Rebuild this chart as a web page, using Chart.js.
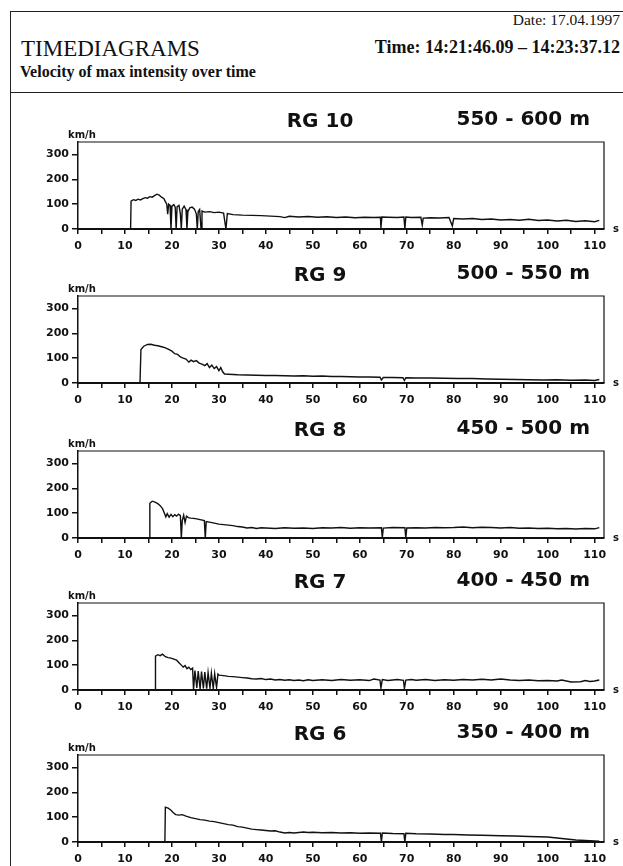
<!DOCTYPE html>
<html>
<head>
<meta charset="utf-8">
<script src="https://cdn.jsdelivr.net/npm/chart.js@4.4.1/dist/chart.umd.min.js"></script>
<style>
  body { margin: 0; background: #fff; }
  #page { position: relative; width: 623px; height: 866px; overflow: hidden; background: #fff; }
  .hd { position: absolute; font-family: "Liberation Serif", "Times New Roman", serif; color: #111; line-height: 1; white-space: nowrap; }
  .rule { position: absolute; background: #222; }
  canvas { position: absolute; left: 0; }
</style>
</head>
<body>
<div id="page">
  <div class="rule" style="left:10px;top:11px;width:613px;height:1px"></div>
  <div class="rule" style="left:10px;top:11px;width:1px;height:855px"></div>
  <div class="rule" style="left:10px;top:92px;width:613px;height:1px"></div>

  <div class="hd" style="right:3px;top:12px;font-size:15.5px">Date: 17.04.1997</div>
  <div class="hd" style="left:21px;top:37px;font-size:23px">TIMEDIAGRAMS</div>
  <div class="hd" style="right:3px;top:38px;font-size:18px;font-weight:bold">Time: 14:21:46.09 – 14:23:37.12</div>
  <div class="hd" style="left:20px;top:64px;font-size:16px;font-weight:bold">Velocity of max intensity over time</div>
</div>

<script>
// Timediagrams - velocity of max intensity per range gate

var panelNames = ['RG 10', 'RG 9', 'RG 8', 'RG 7', 'RG 6'];
var panelRanges = ['550 - 600 m', '500 - 550 m', '450 - 500 m', '400 - 450 m', '350 - 400 m'];

var xTicks = [0, 5, 10, 15, 20, 25, 30, 35, 40, 45, 50, 55, 60, 65, 70, 75, 80, 85, 90, 95, 100, 105, 110];
var yTicks = [0, 100, 200, 300];

// RG 10 (s, km/h)
var rg10Time = [0, 11.2, 11.3, 11.8, 12.3, 12.8, 13.3, 13.8, 14.3, 14.8, 15.3, 15.8, 16.3, 16.8, 17.3, 17.8, 18.3, 18.6, 18.9, 19.1, 19.3, 19.6, 19.8, 20.0, 20.4, 20.7, 20.9, 21.1, 21.5, 21.8, 22.0, 22.2, 22.6, 23.0, 23.2, 23.4, 23.8, 24.3, 24.8, 25.2, 25.4, 25.6, 25.9, 26.2, 26.4, 27, 28, 29, 30, 31, 31.5, 31.8, 33, 35, 37, 39, 41, 43, 44, 45, 47, 49, 51, 53, 55, 57, 59, 61, 63, 64.4, 64.5, 64.7, 66, 68, 69.4, 69.6, 69.8, 71, 73, 73.3, 73.5, 75, 77, 79, 79.7, 80, 82, 84, 86, 88, 90, 92, 94, 96, 98, 100, 102, 104, 106, 108, 110, 111];
var rg10Speed = [0, 0, 112, 118, 115, 120, 117, 122, 126, 124, 130, 128, 134, 140, 136, 128, 122, 110, 100, 60, 100, 95, 0, 92, 98, 88, 0, 90, 95, 60, 0, 80, 92, 78, 0, 70, 85, 88, 80, 60, 0, 70, 78, 0, 72, 68, 70, 66, 68, 64, 0, 62, 58, 56, 55, 54, 52, 50, 46, 51, 48, 50, 47, 49, 46, 48, 45, 47, 46, 47, 4, 48, 47, 46, 48, 0, 48, 46, 47, 16, 44, 45, 44, 46, 12, 42, 40, 42, 38, 40, 36, 38, 35, 39, 34, 36, 32, 35, 30, 33, 29, 35];

// RG 9
var rg9Time = [0, 13.2, 13.4, 14.0, 14.8, 15.5, 16.3, 17.0, 17.8, 18.5, 19.2, 20.0, 20.6, 21.2, 21.8, 22.4, 23.0, 23.6, 24.1, 24.6, 25.2, 25.8, 26.4, 27.0, 27.5, 28.0, 28.5, 29.0, 29.5, 30.0, 30.4, 30.8, 31.2, 32, 34, 36, 38, 40, 42, 44, 46, 48, 50, 52, 54, 56, 58, 60, 62, 64.3, 64.6, 65, 67, 69.2, 69.5, 69.8, 72, 75, 78, 81, 84, 87, 90, 93, 96, 99, 102, 105, 108, 110, 111];
var rg9Speed = [0, 0, 135, 148, 155, 156, 152, 150, 146, 142, 136, 128, 118, 115, 105, 100, 96, 84, 92, 86, 90, 80, 76, 70, 78, 62, 72, 58, 66, 50, 62, 45, 36, 35, 33, 32, 31, 30, 30, 29, 28, 29, 27, 28, 26, 26, 25, 24, 24, 23, 12, 22, 22, 21, 10, 21, 20, 20, 19, 18, 18, 16, 15, 14, 13, 12, 13, 11, 12, 10, 14];

// RG 8
var rg8Time = [0, 15.2, 15.3, 15.8, 16.4, 17.0, 17.5, 18.0, 18.4, 18.7, 19.0, 19.4, 19.8, 20.2, 20.6, 21.0, 21.4, 21.8, 22.0, 22.2, 22.5, 22.8, 23.1, 23.5, 24, 25, 26, 26.9, 27.1, 27.3, 28, 29, 30, 31, 32, 33, 34, 35, 36, 37, 38, 39, 40, 42, 44, 46, 48, 50, 52, 54, 56, 58, 60, 62, 64.6, 64.8, 65, 67, 69.6, 69.8, 70, 72, 74, 76, 78, 80, 82, 84, 86, 88, 90, 92, 94, 96, 98, 100, 102, 104, 106, 108, 110, 111];
var rg8Speed = [0, 0, 140, 148, 144, 138, 130, 118, 100, 85, 98, 84, 95, 86, 94, 88, 96, 90, 0, 70, 92, 62, 88, 82, 80, 78, 74, 70, 0, 66, 64, 60, 56, 54, 52, 50, 46, 44, 40, 42, 38, 41, 40, 38, 41, 39, 40, 38, 41, 40, 42, 39, 41, 40, 41, 2, 40, 42, 41, 0, 40, 41, 40, 42, 41, 42, 44, 41, 43, 42, 40, 42, 39, 40, 38, 39, 37, 38, 36, 38, 37, 42];

// RG 7
var rg7Time = [0, 16.4, 16.5, 17.0, 17.5, 18.0, 18.6, 19.2, 19.8, 20.4, 21.0, 21.5, 22.0, 22.4, 22.8, 23.2, 23.6, 24.0, 24.4, 24.6, 24.9, 25.3, 25.6, 26.0, 26.3, 26.7, 27.0, 27.4, 27.7, 28.1, 28.4, 28.8, 29.1, 29.5, 29.8, 30, 31, 32, 33, 34, 35, 36, 37, 38, 39, 40, 41, 42, 43, 44, 45, 46, 47, 48, 49, 50, 52, 54, 56, 58, 60, 62, 63, 64.3, 64.5, 64.8, 66, 68, 69.3, 69.5, 69.8, 71, 72, 74, 76, 78, 80, 82, 84, 86, 88, 90, 92, 94, 96, 98, 100, 102, 103, 105, 107, 108, 109, 110, 111];
var rg7Speed = [0, 0, 136, 142, 138, 144, 134, 130, 128, 124, 120, 110, 100, 92, 98, 86, 92, 82, 88, 0, 78, 8, 76, 4, 74, 6, 72, 5, 70, 8, 68, 6, 66, 10, 64, 60, 58, 55, 54, 52, 50, 48, 45, 44, 46, 42, 44, 40, 42, 39, 41, 38, 40, 37, 41, 38, 41, 38, 42, 39, 41, 38, 44, 40, 8, 42, 38, 42, 39, 6, 40, 42, 39, 42, 38, 41, 39, 42, 40, 43, 40, 44, 40, 38, 40, 37, 38, 36, 40, 32, 33, 38, 34, 36, 40];

// RG 6
var rg6Time = [0, 18.5, 18.6, 19.2, 19.8, 20.3, 20.8, 21.5, 22.2, 23, 24, 25, 26, 27, 28, 29, 30, 31, 32, 33, 34, 35, 36, 37, 38, 39, 40, 41, 42, 43, 44, 45, 46, 47, 48, 49, 50, 52, 54, 56, 58, 60, 62, 64.4, 64.6, 64.8, 67, 69.4, 69.6, 69.8, 72, 75, 78, 80, 83, 86, 90, 93, 96, 100, 102, 104, 106, 108, 110, 111];
var rg6Speed = [0, 0, 140, 136, 128, 118, 110, 108, 110, 104, 98, 94, 90, 88, 84, 82, 78, 74, 70, 68, 62, 60, 56, 52, 50, 48, 46, 44, 45, 40, 36, 38, 36, 38, 40, 38, 39, 37, 38, 36, 37, 35, 36, 35, 0, 36, 34, 33, 0, 35, 33, 32, 30, 30, 28, 27, 25, 24, 22, 20, 16, 12, 8, 6, 4, 3];

var panelTimes = [rg10Time, rg9Time, rg8Time, rg7Time, rg6Time];
var panelSpeeds = [rg10Speed, rg9Speed, rg8Speed, rg7Speed, rg6Speed];

// layout: top of each plot box on the page
var plotTops = [142, 296, 451, 603, 755];
var padTop = 34;
var plotHeight = 87;
var axisHeight = 26;

var ink = '#111';
var tickFont = { family: '"DejaVu Sans", Arial, sans-serif', size: 11, weight: 'bold' };

var panelDecor = {
    id: 'panelDecor',
    afterDraw: function (chart, args, opts) {
        var ctx = chart.ctx;
        var a = chart.chartArea;
        ctx.save();
        // top and right side of the box
        ctx.strokeStyle = ink;
        ctx.lineWidth = 1.2;
        ctx.beginPath();
        ctx.moveTo(a.left, a.top);
        ctx.lineTo(a.right, a.top);
        ctx.lineTo(a.right, a.bottom);
        ctx.stroke();

        ctx.fillStyle = ink;
        ctx.font = 'bold 10px "DejaVu Sans", Arial, sans-serif';
        ctx.textAlign = 'left';
        ctx.textBaseline = 'bottom';
        ctx.fillText('km/h', a.left - 10, a.top - 2);
        ctx.textBaseline = 'middle';
        ctx.fillText('s', a.right + 9, a.bottom);

        ctx.font = 'bold 20px "DejaVu Sans", Arial, sans-serif';
        ctx.textBaseline = 'middle';
        ctx.textAlign = 'center';
        ctx.fillText(opts.name, opts.nameX, a.top - 20);
        ctx.textAlign = 'right';
        ctx.fillText(opts.range, opts.rangeRight, a.top - 22);
        ctx.restore();
    }
};

var page = document.getElementById('page');

for (var p = 0; p < panelNames.length; p++) {
    var cv = document.createElement('canvas');
    cv.width = 623;
    cv.height = padTop + plotHeight + axisHeight;
    cv.style.top = (plotTops[p] - padTop) + 'px';
    page.appendChild(cv);

    var pts = panelTimes[p].map(function (t, i) { return { x: t, y: panelSpeeds[p][i] }; });

    new Chart(cv.getContext('2d'), {
        type: 'line',
        data: {
            datasets: [{
                label: panelNames[p],
                data: pts,
                borderColor: ink,
                borderWidth: 1.4,
                pointRadius: 0,
                fill: false,
                tension: 0
            }]
        },
        plugins: [panelDecor],
        options: {
            responsive: false,
            animation: false,
            devicePixelRatio: 1,
            layout: { padding: { top: padTop, right: 19, left: 0, bottom: 0 } },
            plugins: {
                legend: { display: false },
                tooltip: { enabled: false },
                panelDecor: { name: panelNames[p], range: panelRanges[p], nameX: 320, rangeRight: 590 }
            },
            scales: {
                x: {
                    type: 'linear',
                    min: 0,
                    max: 112,
                    afterBuildTicks: function (s) { s.ticks = xTicks.map(function (v) { return { value: v }; }); },
                    afterFit: function (s) { s.height = axisHeight; },
                    ticks: {
                        autoSkip: false,
                        maxRotation: 0,
                        padding: 6,
                        color: ink,
                        font: tickFont,
                        callback: function (v) { return v % 10 === 0 ? v : ''; }
                    },
                    grid: { drawOnChartArea: false, drawTicks: true, tickLength: 5, color: ink, lineWidth: 1.5 },
                    border: { display: true, color: ink, width: 2 }
                },
                y: {
                    min: 0,
                    max: 350,
                    afterBuildTicks: function (s) { s.ticks = yTicks.map(function (v) { return { value: v }; }); },
                    afterFit: function (s) { s.width = 78; },
                    ticks: { padding: 3, color: ink, font: tickFont },
                    grid: { drawOnChartArea: false, drawTicks: true, tickLength: 6, color: ink, lineWidth: 1.5 },
                    border: { display: true, color: ink, width: 1.5 }
                }
            }
        }
    });
}
</script>
</body>
</html>
